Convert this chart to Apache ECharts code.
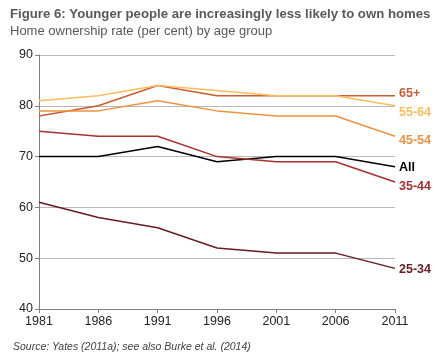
<!DOCTYPE html>
<html><head><meta charset="utf-8">
<script src="https://cdn.jsdelivr.net/npm/echarts@6/dist/echarts.min.js"></script>
<style>html,body{margin:0;padding:0;background:#fff}#c{width:438px;height:357px}</style>
</head><body><div id="c"></div>
<script>
const years = ['1981','1986','1991','1996','2001','2006','2011'];
const s65 = [78, 80, 84, 82, 82, 82, 82];
const s55 = [81, 82, 84, 83, 82, 82, 80];
const s45 = [79, 79, 81, 79, 78, 78, 74];
const sAll = [70, 70, 72, 69, 70, 70, 68];
const s35 = [75, 74, 74, 70, 69, 69, 65];
const s25 = [61, 58, 56, 52, 51, 51, 48];
const yTicks = [40, 50, 60, 70, 80, 90];

const defs = [
  {name:'65+', data:s65, color:'#cd5c33', dy:-2},
  {name:'55-64', data:s55, color:'#fbbd5a', dy:7},
  {name:'45-54', data:s45, color:'#f0913f', dy:4},
  {name:'All', data:sAll, color:'#000000', dy:1},
  {name:'35-44', data:s35, color:'#a8302f', dy:5},
  {name:'25-34', data:s25, color:'#6a1a22', dy:1}
];
const chart = echarts.init(document.getElementById('c'));
chart.setOption({
  animation:false,
  textStyle:{fontFamily:'Liberation Sans, Arial, sans-serif'},
  title:[
    {text:'Figure 6: Younger people are increasingly less likely to own homes', left:5, top:3,
     textStyle:{fontSize:13.2, fontWeight:'bold', color:'#595959', fontFamily:'Liberation Sans, Arial, sans-serif'}},
    {text:'Home ownership rate (per cent) by age group', left:5, top:20,
     textStyle:{fontSize:13, fontWeight:'normal', color:'#595959', fontFamily:'Liberation Sans, Arial, sans-serif'}},
    {text:'Source: Yates (2011a); see also Burke et al. (2014)', left:8, top:337,
     textStyle:{fontSize:10.5, fontWeight:'normal', fontStyle:'italic', color:'#404040', fontFamily:'Liberation Sans, Arial, sans-serif'}}
  ],
  grid:{left:39, right:43, top:55, bottom:48, containLabel:false},
  xAxis:{type:'category', data:years, boundaryGap:false,
    axisLine:{lineStyle:{color:'#808080', width:1}},
    axisTick:{show:true, alignWithLabel:true, length:4, lineStyle:{color:'#808080'}},
    axisLabel:{color:'#222', fontSize:12.5, margin:6, fontFamily:'Liberation Sans, Arial, sans-serif'},
    splitLine:{show:false}},
  yAxis:{type:'value', min:yTicks[0], max:yTicks[yTicks.length-1], interval:10,
    axisLine:{show:true, lineStyle:{color:'#808080', width:1}},
    axisTick:{show:true, length:4, lineStyle:{color:'#808080'}},
    axisLabel:{color:'#222', fontSize:12.5, margin:6, fontFamily:'Liberation Sans, Arial, sans-serif'},
    splitLine:{show:true, lineStyle:{color:'#b9b9b9', width:1}}},
  series: defs.map(d => ({
    name:d.name, type:'line', data:d.data, symbol:'none',
    lineStyle:{color:d.color, width:1.5}, itemStyle:{color:d.color},
    endLabel:{show:true, formatter:d.name, color:d.color, fontWeight:'bold', fontSize:12.5,
      fontFamily:'Liberation Sans, Arial, sans-serif', distance:4, offset:[0, d.dy]}
  }))
});
</script></body></html>
